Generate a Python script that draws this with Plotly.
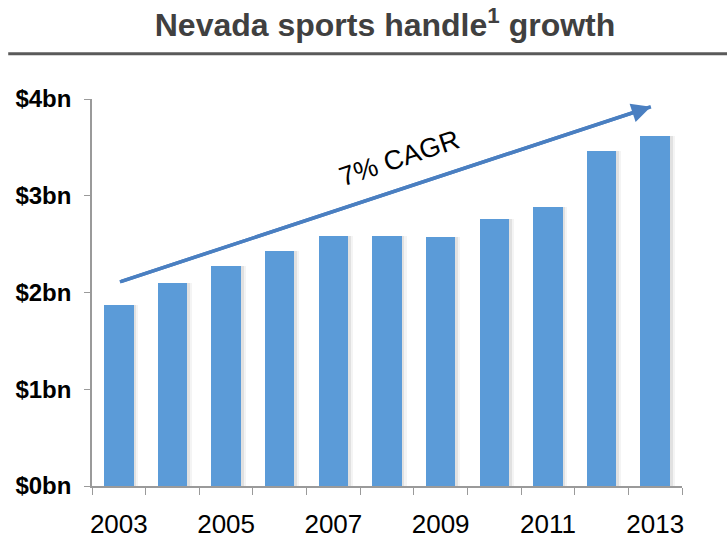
import plotly.graph_objects as go

# Nevada sports handle, $bn per year
years = [2003, 2004, 2005, 2006, 2007, 2008, 2009, 2010, 2011, 2012, 2013]
handle_bn = [1.87, 2.10, 2.27, 2.43, 2.58, 2.58, 2.57, 2.76, 2.88, 3.46, 3.62]

label_years = [2003, 2005, 2007, 2009, 2011, 2013]
y_ticks = [0, 1, 2, 3, 4]
y_labels = ["$0bn", "$1bn", "$2bn", "$3bn", "$4bn"]

# trend arrow endpoints (year, $bn) and its caption
arrow_start = (2003.02, 2.11)
arrow_end = (2012.92, 3.92)
cagr_text = "7% CAGR"

sans = "Liberation Sans, Arial, sans-serif"
BAR_W = 0.55
ARROW_BLUE = "#4a7fc1"

fig = go.Figure()

# soft drop shadow to the right of each bar
for dx, alpha in [(0.09, 0.06), (0.05, 0.10)]:
    fig.add_trace(go.Bar(
        x=years, y=handle_bn, width=BAR_W, offset=-BAR_W / 2 + dx,
        marker=dict(color=f"rgba(60,60,60,{alpha})", line=dict(width=0)),
        hoverinfo="skip", showlegend=False,
    ))

fig.add_trace(go.Bar(
    x=years, y=handle_bn, width=BAR_W, offset=-BAR_W / 2,
    marker=dict(color="#5b9bd8", line=dict(width=0)),
    showlegend=False,
))

# invisible trace to carry the labelled x-axis
fig.add_trace(go.Scatter(x=years, y=handle_bn, xaxis="x2", mode="markers",
                         marker=dict(opacity=0), hoverinfo="skip", showlegend=False))

# trend arrow: shaft as a line, head from an annotation
fig.add_trace(go.Scatter(
    x=[arrow_start[0], arrow_end[0]], y=[arrow_start[1], arrow_end[1]],
    mode="lines", line=dict(color=ARROW_BLUE, width=3.5),
    hoverinfo="skip", showlegend=False,
))
fig.add_annotation(
    x=arrow_end[0], y=arrow_end[1], ax=arrow_start[0], ay=arrow_start[1],
    xref="x", yref="y", axref="x", ayref="y",
    showarrow=True, arrowhead=2, arrowsize=1.1, arrowwidth=3.5,
    arrowcolor=ARROW_BLUE, text="",
)
fig.add_annotation(
    x=2008.24, y=3.39, xref="x", yref="y", text=cagr_text, showarrow=False,
    textangle=-18.5, font=dict(family=sans, size=27, color="#000000"),
)

# rule under the heading
fig.add_shape(type="line", xref="paper", yref="paper",
              x0=-0.142, x1=1.08, y0=1.117, y1=1.117,
              line=dict(color="#5a5a5a", width=3))

fig.update_layout(
    width=727, height=544,
    margin=dict(l=92, r=45, t=99, b=58, autoexpand=False),
    paper_bgcolor="white", plot_bgcolor="white",
    barmode="overlay", bargap=0,
    title=dict(
        text="Nevada sports handle<sup>1</sup> growth",
        x=385 / 727, xanchor="center", xref="container",
        y=1 - 25 / 544, yanchor="middle", yref="container",
        font=dict(family=sans, size=32, color="#404040", weight="bold"),
    ),
    xaxis=dict(
        range=[2002.5, 2013.5], tickmode="array", automargin=False,
        tickvals=[y - 0.5 for y in years] + [years[-1] + 0.5],
        showticklabels=False, ticks="outside", ticklen=7, tickcolor="#9a9a9a", tickwidth=1,
        showline=True, linecolor="#9a9a9a", linewidth=1.5, showgrid=False, zeroline=False,
    ),
    xaxis2=dict(
        range=[2002.5, 2013.5], overlaying="x", side="bottom", anchor="y", automargin=False,
        tickmode="array", tickvals=label_years, ticktext=[str(y) for y in label_years],
        ticks="", showline=False, showgrid=False, zeroline=False,
        tickfont=dict(family=sans, size=26, color="#000000"),
        ticklabelstandoff=20,
    ),
    yaxis=dict(
        range=[0, 4], tickmode="array", tickvals=y_ticks, ticktext=y_labels, automargin=False,
        ticks="outside", ticklen=6, tickcolor="#9a9a9a", tickwidth=1,
        showline=True, linecolor="#9a9a9a", linewidth=1.5, showgrid=False, zeroline=False,
        tickfont=dict(family=sans, size=24, color="#000000", weight="bold"),
        ticklabelstandoff=8,
    ),
)

fig.write_html("out.html")
